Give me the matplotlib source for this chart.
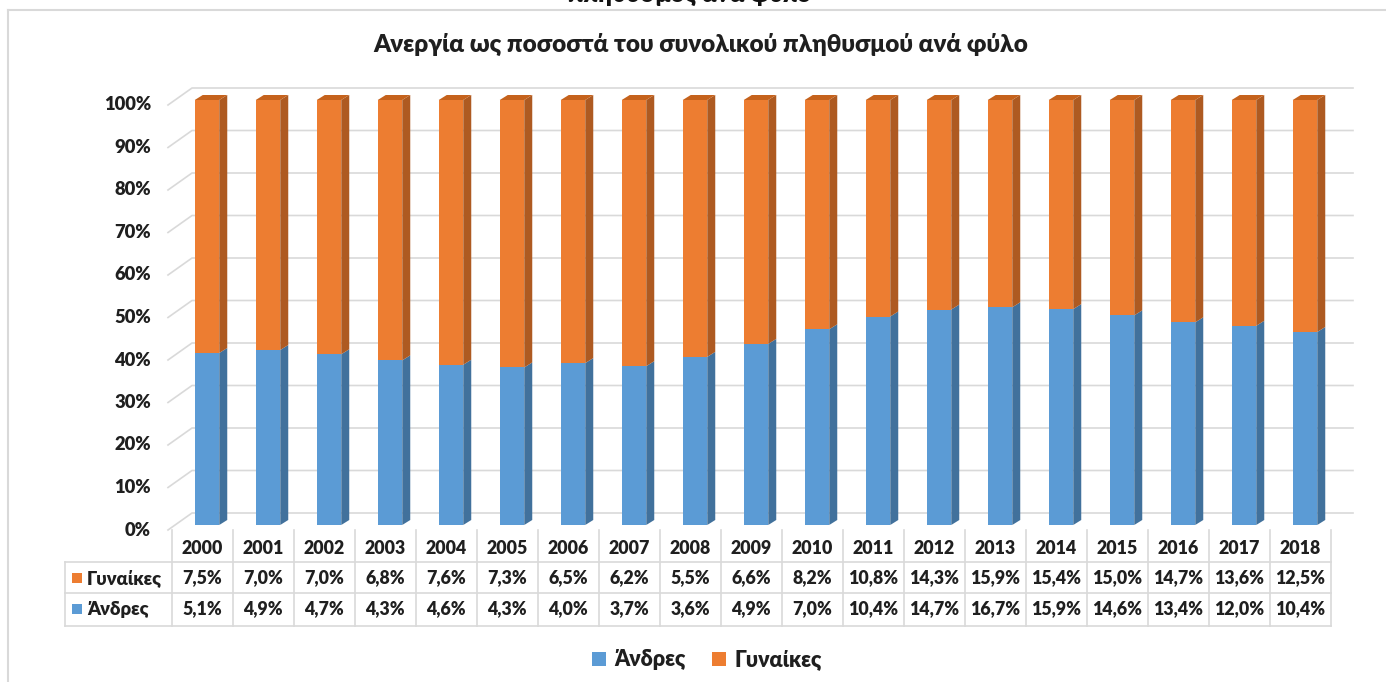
import matplotlib
matplotlib.use("Agg")
import matplotlib.pyplot as plt
from matplotlib.patches import Polygon, Rectangle, Patch
from matplotlib.lines import Line2D
import matplotlib.transforms as mtransforms

years = ["2000", "2001", "2002", "2003", "2004", "2005", "2006", "2007", "2008", "2009",
         "2010", "2011", "2012", "2013", "2014", "2015", "2016", "2017", "2018"]
women = [7.5, 7.0, 7.0, 6.8, 7.6, 7.3, 6.5, 6.2, 5.5, 6.6, 8.2, 10.8, 14.3, 15.9, 15.4, 15.0, 14.7, 13.6, 12.5]
men = [5.1, 4.9, 4.7, 4.3, 4.6, 4.3, 4.0, 3.7, 3.6, 4.9, 7.0, 10.4, 14.7, 16.7, 15.9, 14.6, 13.4, 12.0, 10.4]
series_names = ["Άνδρες", "Γυναίκες"]
yticks = [0, 10, 20, 30, 40, 50, 60, 70, 80, 90, 100]

title = "Ανεργία ως ποσοστά του συνολικού πληθυσμού ανά φύλο"
top_cut = "πληθυσμός ανά φύλο"

blue, blue_side = "#5B9BD5", "#41719C"
orange, orange_side, orange_top = "#ED7D31", "#AE5A21", "#C5621C"
grid_c = "#D9D9D9"
txt_c = "#1F1F1F"
W8 = "heavy"

plt.rcParams["font.family"] = ["Lato", "DejaVu Sans"]

W, H = 1386, 682
fig = plt.figure(figsize=(W / 100, H / 100), dpi=100)

# axes geometry in pixels (from top)
left_px, right_px = 168, 1353
y0_px, y100_px = 525, 100
ppu = (y0_px - y100_px)  # pixels per unit of share
bar_c0, step = 207, 61.0
ylo, yhi = -0.03, 1.04
ax = fig.add_axes([left_px / W, (H - (y0_px - ylo * ppu)) / H,
                   (right_px - left_px) / W, (yhi - ylo) * ppu / H])
xlo = (left_px - bar_c0) / step
xhi = (right_px - bar_c0) / step
ax.set_xlim(xlo, xhi)
ax.set_ylim(ylo, yhi)
ax.axis("off")

# 3d-ish gridlines (back wall)
back_dx = 24 / step
back_dy = 12 / ppu
front_dy = -5 / ppu
for t in yticks:
    v = t / 100
    ax.plot([xlo, xlo + back_dx, xhi], [v + front_dy, v + back_dy, v + back_dy],
            color=grid_c, lw=1.2, zorder=0, clip_on=False)
    ax.text(xlo - 17 / step, v + front_dy, f"{t}%", ha="right", va="center",
            fontsize=13.2, fontweight=W8, color=txt_c)

# bars
bw = 24.5 / step
dx = 8 / step
dy = 5 / ppu
for i in range(len(years)):
    share = men[i] / (men[i] + women[i])
    xl = i - bw / 2
    xr = i + bw / 2
    for lo, hi, fc, sc in [(0, share, blue, blue_side), (share, 1, orange, orange_side)]:
        ax.add_patch(Rectangle((xl, lo), bw, hi - lo, facecolor=fc, edgecolor="none", zorder=3))
        ax.add_patch(Polygon([(xr, lo), (xr + dx, lo + dy), (xr + dx, hi + dy), (xr, hi)],
                             closed=True, facecolor=sc, edgecolor="none", zorder=3))
    ax.add_patch(Polygon([(xl, 1), (xl + dx, 1 + dy), (xr + dx, 1 + dy), (xr, 1)],
                         closed=True, facecolor=orange_top, edgecolor="none", zorder=3))

# data table below the chart
tr = mtransforms.blended_transform_factory(ax.transData, fig.transFigure)
def fy(p):
    return 1 - p / H

col_off = -0.58
hdr_left = (65 - bar_c0) / step
row_lines = [562, 593, 626]
n = len(years)
for yp in row_lines:
    ax.add_line(Line2D([hdr_left, n - 1 + col_off + 1], [fy(yp), fy(yp)], transform=tr,
                       color=grid_c, lw=1.2, clip_on=False))
for k in range(n + 1):
    xe = k + col_off
    ax.add_line(Line2D([xe, xe], [fy(530), fy(626)], transform=tr,
                       color=grid_c, lw=1.2, clip_on=False))
ax.add_line(Line2D([hdr_left, hdr_left], [fy(562), fy(626)], transform=tr,
                   color=grid_c, lw=1.2, clip_on=False))

rows = [(women, series_names[1], orange, 578), (men, series_names[0], blue, 609)]
for i, yr in enumerate(years):
    xc = i + col_off + 0.5
    ax.text(xc, fy(548), yr, transform=tr, ha="center", va="center",
            fontsize=12.8, fontweight=W8, color=txt_c)
    for vals, name, c, yp in rows:
        s = f"{vals[i]:.1f}%".replace(".", ",")
        ax.text(xc, fy(yp), s, transform=tr, ha="center", va="center",
                fontsize=12.8, fontweight=W8, color=txt_c)
for vals, name, c, yp in rows:
    sq = 10 / step
    ax.add_patch(Rectangle(((72 - bar_c0) / step, fy(yp + 5)), sq, 10 / H, transform=tr,
                           facecolor=c, edgecolor="none", clip_on=False))
    ax.text((87 - bar_c0) / step, fy(yp), name, transform=tr, ha="left", va="center",
            fontsize=13.3, fontweight=W8, color=txt_c)

# titles
fig.text(701 / W, fy(44), title, ha="center", va="center", fontsize=17.5,
         fontweight=W8, color=txt_c)
fig.text(690 / W, fy(2), top_cut, ha="center", va="baseline", fontsize=17.5,
         fontweight=W8, color="#111111")

# legend
handles = [Patch(facecolor=blue, edgecolor="none"), Patch(facecolor=orange, edgecolor="none")]
fig.legend(handles, series_names, loc="center", bbox_to_anchor=(707 / W, fy(660)), ncol=2,
           frameon=False, handlelength=0.65, handleheight=0.65, handletextpad=0.4,
           columnspacing=1.2, prop={"size": 15.5, "weight": W8}, labelcolor=txt_c)

# outer frame
fig.add_artist(Line2D([8 / W, 1], [fy(10), fy(10)], color=grid_c, lw=1.5))
fig.add_artist(Line2D([8 / W, 8 / W], [fy(10), 0], color=grid_c, lw=1.5))

fig.savefig("out.png", dpi=100)
